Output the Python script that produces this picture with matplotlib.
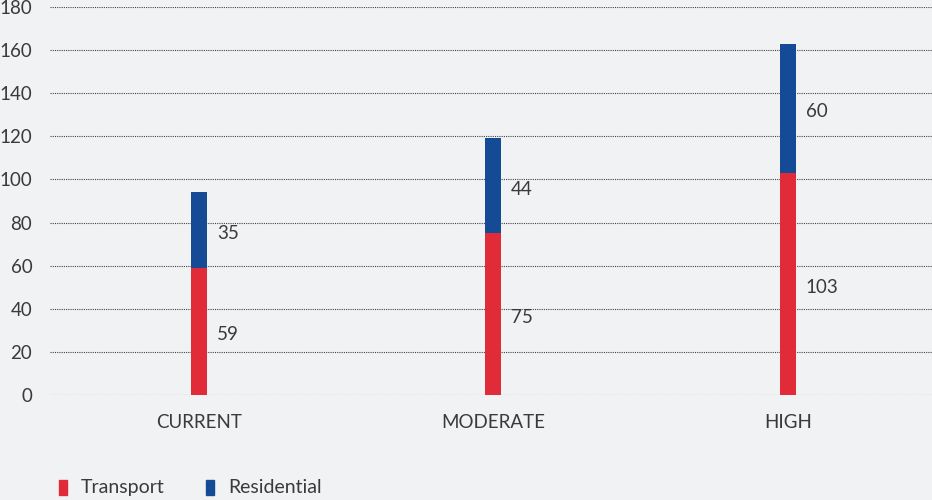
import numpy as np
import matplotlib.pyplot as plt
from matplotlib.patches import Rectangle

# data
categories = ["CURRENT", "MODERATE", "HIGH"]
transport = [59, 75, 103]
residential = [35, 44, 60]
yticks = [0, 20, 40, 60, 80, 100, 120, 140, 160, 180]
legend_labels = ["Transport", "Residential"]

red = "#e12b38"
blue = "#154a96"
bg = "#f1f2f4"
txt = "#3a3a3a"

plt.rcParams['font.family'] = ['Lato', 'DejaVu Sans']

W, H = 932, 500
fig = plt.figure(figsize=(W / 100, H / 100), dpi=100, facecolor=bg)
ax = fig.add_axes([0.054, 0.21, 0.946, 0.776], facecolor=bg)

x = np.arange(len(categories))
w = 0.055
ax.bar(x, transport, w, color=red, zorder=3)
ax.bar(x, residential, w, bottom=transport, color=blue, zorder=3)

# value labels to the right of each segment
for i in range(len(categories)):
    ax.text(x[i] + w / 2 + 0.033, transport[i] / 2 - 1.5, str(transport[i]),
            va="center", ha="left", fontsize=13.5, color=txt)
    ax.text(x[i] + w / 2 + 0.033, transport[i] + residential[i] / 2 - 1.5,
            str(residential[i]), va="center", ha="left", fontsize=13.5, color=txt)

ax.set_xlim(-0.505, 2.49)
ax.set_ylim(0, 180)
ax.set_yticks(yticks)
ax.set_xticks(x, categories)
ax.yaxis.grid(True, linestyle=(0, (1, 1)), color="#444444", linewidth=0.8, zorder=0)
ax.tick_params(axis="y", length=0, pad=13, labelsize=13.5, labelcolor=txt)
ax.tick_params(axis="x", length=0, pad=14, labelsize=13.5, labelcolor=txt)
for s in ax.spines.values():
    s.set_visible(False)

# legend drawn by hand: narrow tall swatches + labels
swatch_x = [59, 206]
text_x = [81, 228]
for col, sx, tx, lab in zip([red, blue], swatch_x, text_x, legend_labels):
    fig.add_artist(Rectangle((sx / W, 1 - 495 / H), 8 / W, 15 / H,
                             transform=fig.transFigure, color=col))
    fig.text(tx / W, 1 - 487.5 / H, lab, ha="left", va="center",
             fontsize=14, color=txt)

plt.savefig("out.png", dpi=100, facecolor=bg)
